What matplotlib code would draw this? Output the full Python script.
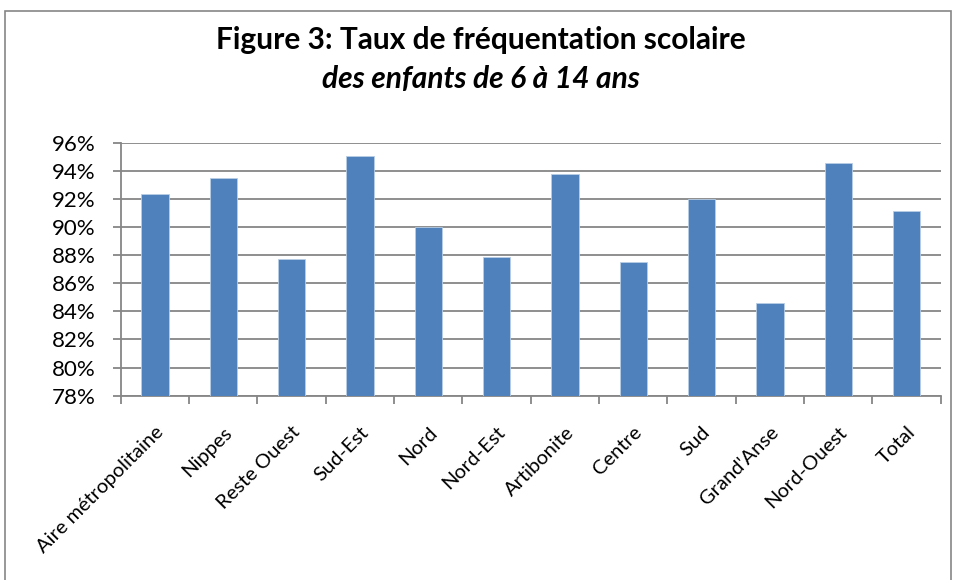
import matplotlib.pyplot as plt
from matplotlib.patches import Rectangle
from matplotlib.ticker import FuncFormatter, MultipleLocator

regions = ['Aire métropolitaine', 'Nippes', 'Reste Ouest', 'Sud-Est', 'Nord', 'Nord-Est',
           'Artibonite', 'Centre', 'Sud', "Grand'Anse", 'Nord-Ouest', 'Total']
taux = [92.35, 93.47, 87.73, 95.03, 90.03, 87.89, 93.77, 87.54, 91.97, 84.6, 94.53, 91.16]

plt.rcParams['font.family'] = ['Lato', 'DejaVu Sans']

W, H = 958, 580
fig = plt.figure(figsize=(W / 100, H / 100), dpi=100)

# chart border (cut at the bottom like the screenshot)
fig.patches.append(Rectangle((5 / W, -0.05), 946 / W, 1.05 - 11 / H, transform=fig.transFigure,
                             fill=False, edgecolor='#868686', linewidth=1.2))

ax = fig.add_axes([120.7 / W, 1 - 395.7 / H, 820 / W, 253 / H])
x = range(len(regions))
ax.bar(x, taux, width=0.4, bottom=0, color='#4F81BD', edgecolor='#B9CDE5', linewidth=0.6, zorder=3)

ax.set_ylim(78, 96)
ax.set_xlim(-0.5, len(regions) - 0.5)
ax.yaxis.set_major_locator(MultipleLocator(2))
ax.yaxis.set_major_formatter(FuncFormatter(lambda v, p: f'{v:.0f}%'))
ax.grid(axis='y', color='#868686', linewidth=1.3, zorder=0)
ax.set_axisbelow(True)

for s in ['top', 'right']:
    ax.spines[s].set_visible(False)
for s in ['left', 'bottom']:
    ax.spines[s].set_color('#868686')
    ax.spines[s].set_linewidth(1.3)

# ticks between categories, labels at category centres
ax.set_xticks([i - 0.5 for i in range(len(regions) + 1)], minor=False)
ax.set_xticklabels([])
ax.set_xticks(list(x), minor=True)
ax.set_xticklabels(regions, minor=True, rotation=45, ha='right', rotation_mode='anchor',
                   fontsize=14.5)
ax.tick_params(axis='x', which='major', length=6, color='#868686', width=1.3)
ax.tick_params(axis='x', which='minor', length=0, pad=20)
ax.tick_params(axis='y', length=6, color='#868686', width=1.3, labelsize=16, pad=12)

fig.text(481 / W, 1 - 40 / H, 'Figure 3: Taux de fréquentation scolaire', ha='center', va='center',
         fontsize=21.5, fontweight='bold')
fig.text(481 / W, 1 - 79 / H, 'des enfants de 6 à 14 ans', ha='center', va='center',
         fontsize=21.5, fontweight='bold', style='italic')

fig.savefig('out.png', dpi=100)
